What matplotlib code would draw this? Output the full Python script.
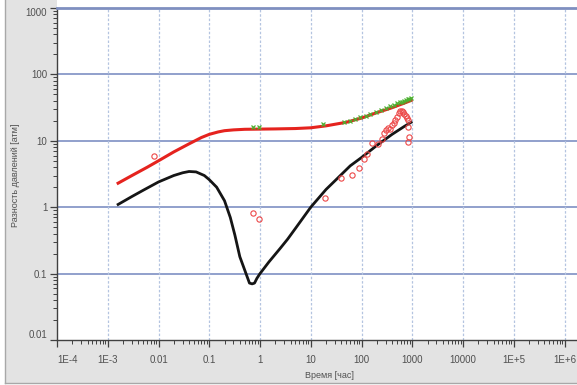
import matplotlib
matplotlib.use("Agg")
import matplotlib.pyplot as plt
from matplotlib.patches import Rectangle
from matplotlib.ticker import LogLocator, FixedLocator, NullFormatter

plt.rcParams['font.family'] = ['Liberation Sans Narrow', 'Liberation Sans', 'DejaVu Sans']

# ---- data ----
red_line_x = [0.0016, 0.003, 0.006, 0.01, 0.02, 0.04, 0.07, 0.1, 0.15, 0.2, 0.3, 0.5,
              1, 2, 5, 10, 20, 50, 100, 200, 400, 700, 950]
red_line_y = [2.3, 3.0, 4.0, 5.0, 6.8, 9.0, 11.2, 12.5, 13.6, 14.2, 14.6, 14.9,
              15.0, 15.1, 15.3, 15.7, 16.8, 19.0, 22.0, 26.5, 31.5, 37.0, 40.5]

black_line_x = [0.0016, 0.003, 0.005, 0.01, 0.02, 0.03, 0.04, 0.055, 0.08, 0.1, 0.14,
                0.2, 0.26, 0.32, 0.4, 0.53, 0.62, 0.7, 0.78, 0.87, 1.0, 1.5, 2.5,
                3.5, 5, 10, 20, 30, 60, 100, 200, 400, 700, 950]
black_line_y = [1.1, 1.45, 1.8, 2.4, 3.0, 3.3, 3.45, 3.4, 3.0, 2.6, 2.0,
                1.25, 0.7, 0.38, 0.18, 0.1, 0.072, 0.07, 0.072, 0.085, 0.1, 0.15, 0.24,
                0.33, 0.48, 1.0, 1.85, 2.5, 4.2, 5.6, 8.5, 12.5, 16.5, 19.0]

red_pts_x = [0.0081, 0.74, 0.97, 19.4, 40, 66, 88, 110, 130, 163, 215, 250, 275, 310,
             340, 370, 400, 430, 464, 500, 540, 580, 620, 660, 700, 740, 780,
             830, 840, 845, 840]
red_pts_y = [6.0, 0.83, 0.66, 1.39, 2.8, 3.1, 3.9, 5.3, 6.3, 9.3, 8.9, 10.5, 13, 14.5,
             15.4, 15.0, 17.0, 18.5, 20.6, 23, 26, 28, 28.5, 27, 25.5, 24, 22,
             20.6, 16.3, 11.5, 9.7]

green_pts_x = [0.74, 0.97, 17.7, 45, 60, 75, 95, 120, 150, 190, 240, 300, 360, 430,
               500, 570, 640, 700, 760, 820, 870, 930]
green_pts_y = [16, 16, 17.9, 19, 20, 21, 22.5, 24, 25.5, 27.5, 29.5, 31.5, 33, 35,
               36.5, 38, 39, 40, 41, 42, 43, 43.5]

x_ticks = [1e-4, 1e-3, 1e-2, 1e-1, 1, 10, 100, 1000, 1e4, 1e5, 1e6]
x_tick_labels = ["1E-4", "1E-3", "0.01", "0.1", "1", "10", "100", "1000", "10000", "1E+5", "1E+6"]
y_ticks = [0.01, 0.1, 1, 10, 100, 1000]
y_tick_labels = ["0.01", "0.1", "1", "10", "100", "1000"]

W, H = 577, 385
fig = plt.figure(figsize=(W / 100, H / 100), dpi=100, facecolor='white')

# gray panel regions (label area)
bg = '#e3e3e3'
fig.patches.append(Rectangle((5 / W, 2 / H), 52 / W, (H - 2) / H, transform=fig.transFigure,
                             facecolor=bg, edgecolor='none', zorder=-10))
fig.patches.append(Rectangle((5 / W, 2 / H), (W - 5) / W, 43 / H, transform=fig.transFigure,
                             facecolor=bg, edgecolor='none', zorder=-10))
fig.lines.append(plt.Line2D([5 / W, 5 / W], [2 / H, 1], transform=fig.transFigure,
                            color='#a8a8a8', lw=1, zorder=-9))
fig.lines.append(plt.Line2D([5 / W, 1], [2 / H, 2 / H], transform=fig.transFigure,
                            color='#a8a8a8', lw=1, zorder=-9))

ax = fig.add_axes([57 / W, 1 - 340 / H, (W - 57) / W + 0.01, (340 - 8) / H])
ax.set_zorder(1)
ax.set_facecolor('white')
ax.set_xscale('log')
ax.set_yscale('log')
ax.set_xlim(1e-4, 10 ** 6.36)
ax.set_ylim(0.01, 1000)

# grid
for yv in y_ticks[1:-1]:
    ax.axhline(yv, color='#8898c8', lw=1.3, zorder=1)
for xv in x_ticks[1:]:
    ax.axvline(xv, color='#b4c4e0', lw=0.9, ls=(0, (2, 1.5)), zorder=1)

ax.plot(black_line_x, black_line_y, color='#151515', lw=2.0, zorder=3,
        solid_joinstyle='round')
ax.plot(red_line_x, red_line_y, color='#e5231e', lw=2.2, zorder=4,
        solid_joinstyle='round')
ax.plot(green_pts_x, green_pts_y, ls='none', marker='x', ms=2.5, mew=0.9,
        color='#4cb030', zorder=5)
ax.plot(red_pts_x, red_pts_y, ls='none', marker='o', ms=3.8, mew=0.8,
        mfc='none', mec='#ec4848', zorder=6)

# spines
ax.spines['top'].set_color('#7f8fc0')
ax.spines['top'].set_linewidth(2.0)
ax.spines['right'].set_visible(False)
ax.spines['left'].set_color('#404040')
ax.spines['bottom'].set_color('#404040')
ax.spines['left'].set_linewidth(1.0)
ax.spines['bottom'].set_linewidth(1.0)

ax.xaxis.set_major_locator(FixedLocator(x_ticks))
ax.set_xticklabels(x_tick_labels)
ax.xaxis.set_minor_locator(LogLocator(base=10, subs=range(2, 10), numticks=30))
ax.xaxis.set_minor_formatter(NullFormatter())
ax.yaxis.set_major_locator(FixedLocator(y_ticks))
ax.set_yticklabels(y_tick_labels)
ax.yaxis.set_minor_locator(LogLocator(base=10, subs=range(2, 10), numticks=30))
ax.yaxis.set_minor_formatter(NullFormatter())

ax.tick_params(axis='both', which='major', length=5, width=0.9, color='#404040',
               labelsize=7, labelcolor='#505050', direction='out')
ax.tick_params(axis='both', which='minor', length=3, width=0.7, color='#404040',
               direction='out')
ax.tick_params(axis='x', pad=6)
ax.tick_params(axis='y', pad=2)

xl = ax.get_xticklabels()
xl[0].set_ha('left')
yl = ax.get_yticklabels()
yl[0].set_va('bottom')
yl[-1].set_va('top')

fig.text(330 / W, 1 - 376 / H, "Время [час]", ha='center', va='center',
         fontsize=6.5, color='#505050')
fig.text(16 / W, 1 - 175 / H, "Разность давлений [атм]", ha='center', va='center',
         rotation=90, fontsize=6.5, color='#505050')

fig.savefig("out.png", dpi=100, facecolor=fig.get_facecolor())
